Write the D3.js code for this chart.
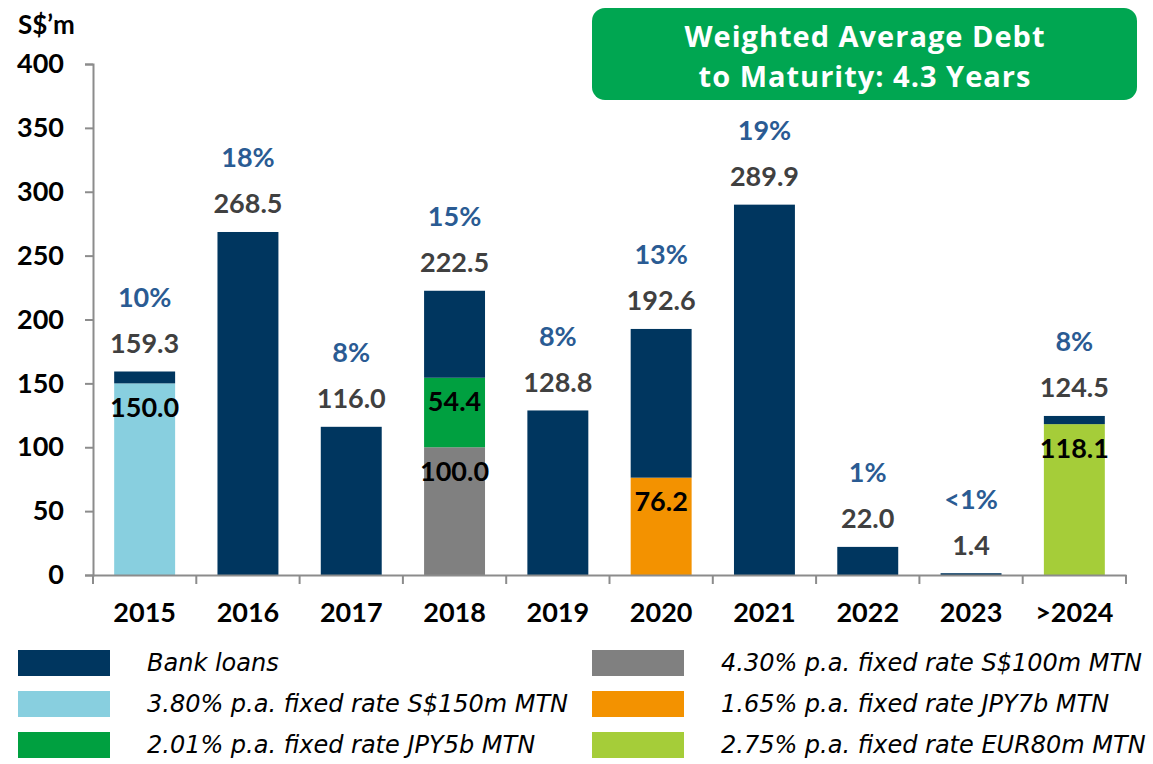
<!DOCTYPE html>
<html><head><meta charset="utf-8">
<script src="https://cdn.jsdelivr.net/npm/d3@7"></script>
<style>body{margin:0;background:#fff}svg{display:block}</style>
</head><body>
<svg id="c" width="1153" height="764"></svg>
<script>
const categories = ["2015","2016","2017","2018","2019","2020","2021","2022","2023",">2024"];
const bankLoans = [9.3,268.5,116.0,68.1,128.8,116.4,289.9,22.0,1.4,6.4];
const mtnS150 = [150.0,0,0,0,0,0,0,0,0,0];
const mtnS100 = [0,0,0,100.0,0,0,0,0,0,0];
const mtnJPY5b = [0,0,0,54.4,0,0,0,0,0,0];
const mtnJPY7b = [0,0,0,0,0,76.2,0,0,0,0];
const mtnEUR80 = [0,0,0,0,0,0,0,0,0,118.1];
const totals = [159.3,268.5,116.0,222.5,128.8,192.6,289.9,22.0,1.4,124.5];
const shares = ["10%","18%","8%","15%","8%","13%","19%","1%","<1%","8%"];
const yTicks = [0,50,100,150,200,250,300,350,400];

(function(){
const seriesDefs = [
  {key:"s150", name:"3.80% p.a. fixed rate S$150m MTN", values:mtnS150, color:"#88CFDF", inner:true},
  {key:"s100", name:"4.30% p.a. fixed rate S$100m MTN", values:mtnS100, color:"#808080", inner:true},
  {key:"j5", name:"2.01% p.a. fixed rate JPY5b MTN", values:mtnJPY5b, color:"#00A040", inner:true},
  {key:"j7", name:"1.65% p.a. fixed rate JPY7b MTN", values:mtnJPY7b, color:"#F39200", inner:true},
  {key:"e80", name:"2.75% p.a. fixed rate EUR80m MTN", values:mtnEUR80, color:"#A5CD39", inner:true},
  {key:"bank", name:"Bank loans", values:bankLoans, color:"#00365F", inner:false}
];
const legendOrder = ["bank","s150","j5","s100","j7","e80"];

const rows = categories.map((c,i)=>{const r={cat:c}; seriesDefs.forEach(s=>r[s.key]=s.values[i]); return r;});
const stack = d3.stack().keys(seriesDefs.map(s=>s.key))(rows);

const svg = d3.select("#c");
const pL=93, pR=1126, pT=64, pB=575;
const x = d3.scaleBand().domain(categories).range([pL,pR]).paddingInner(0.41).paddingOuter(0.205);
const y = d3.scaleLinear().domain([0,400]).range([pB,pT]);
const font = "Lato, 'Open Sans', sans-serif";
const fs = 27;

stack.forEach((layer,li)=>{
  const def = seriesDefs[li];
  svg.append("g").selectAll("rect").data(layer.filter(d=>d[1]-d[0]>0)).join("rect")
    .attr("x",d=>x(d.data.cat)).attr("width",x.bandwidth())
    .attr("y",d=>y(d[1])).attr("height",d=>y(d[0])-y(d[1]))
    .attr("fill",def.color);
});

const axisColor="#8c8c8c";
const yAxis = svg.append("g").attr("transform",`translate(${pL},0)`)
  .call(d3.axisLeft(y).tickValues(yTicks).tickSize(8).tickPadding(21));
const xAxis = svg.append("g").attr("transform",`translate(0,${pB})`)
  .call(d3.axisBottom(x).tickSize(0).tickPadding(28));
[yAxis,xAxis].forEach(g=>{
  g.select(".domain").attr("stroke",axisColor).attr("stroke-width",2);
  g.selectAll(".tick line").attr("stroke",axisColor).attr("stroke-width",2);
  g.selectAll("text").attr("font-family",font).attr("font-weight","bold").attr("font-size",fs).attr("fill","#000");
});
const bounds = categories.map(c=>x(c)-x.step()*x.paddingInner()/2).concat([pR]);
bounds[0]=pL;
xAxis.append("g").selectAll("line").data(bounds).join("line")
  .attr("x1",d=>d).attr("x2",d=>d).attr("y1",0).attr("y2",9)
  .attr("stroke",axisColor).attr("stroke-width",2);

svg.append("text").attr("x",18).attr("y",34).text("S$\u2019m")
  .attr("font-family",font).attr("font-weight","bold").attr("font-size",26).attr("fill","#000");

stack.forEach((layer,li)=>{
  if(!seriesDefs[li].inner) return;
  svg.append("g").selectAll("text").data(layer.filter(d=>d[1]-d[0]>0)).join("text")
    .attr("x",d=>x(d.data.cat)+x.bandwidth()/2).attr("y",d=>y(d[1])+24)
    .attr("dy","0.35em").attr("text-anchor","middle")
    .attr("font-family",font).attr("font-weight","bold").attr("font-size",fs).attr("fill","#000")
    .text(d=>(d[1]-d[0]).toFixed(1));
});

svg.append("g").selectAll("text").data(categories).join("text")
  .attr("x",c=>x(c)+x.bandwidth()/2).attr("y",(c,i)=>y(totals[i])-28)
  .attr("dy","0.35em").attr("text-anchor","middle")
  .attr("font-family",font).attr("font-weight","bold").attr("font-size",fs).attr("fill","#404040")
  .text((c,i)=>totals[i].toFixed(1));
svg.append("g").selectAll("text").data(categories).join("text")
  .attr("x",c=>x(c)+x.bandwidth()/2).attr("y",(c,i)=>y(totals[i])-74)
  .attr("dy","0.35em").attr("text-anchor","middle")
  .attr("font-family",font).attr("font-weight","bold").attr("font-size",fs).attr("fill","#2A5B93")
  .text((c,i)=>shares[i]);

svg.append("rect").attr("x",592).attr("y",8).attr("width",545).attr("height",92).attr("rx",13)
  .attr("fill","#00A651");
const tt = svg.append("text").attr("text-anchor","middle").attr("font-family","'Open Sans', Lato, sans-serif")
  .attr("font-weight","bold").attr("font-size",29).attr("letter-spacing",1).attr("fill","#fff");
tt.append("tspan").attr("x",865).attr("y",47).text("Weighted Average Debt");
tt.append("tspan").attr("x",865).attr("y",87).text("to Maturity: 4.3 Years");

const legendItems = legendOrder.map(k=>seriesDefs.find(s=>s.key===k));
const lg = svg.append("g").selectAll("g").data(legendItems).join("g")
  .attr("transform",(d,i)=>`translate(${i<3?18:592},${650+(i%3)*41})`);
lg.append("rect").attr("width",92).attr("height",26).attr("fill",d=>d.color);
lg.append("text").attr("x",129).attr("y",13).attr("dy","0.35em")
  .attr("font-family","'DejaVu Sans', sans-serif").attr("font-style","italic").attr("font-size",24).attr("fill","#000")
  .text(d=>d.name);
})();
</script>
</body></html>
